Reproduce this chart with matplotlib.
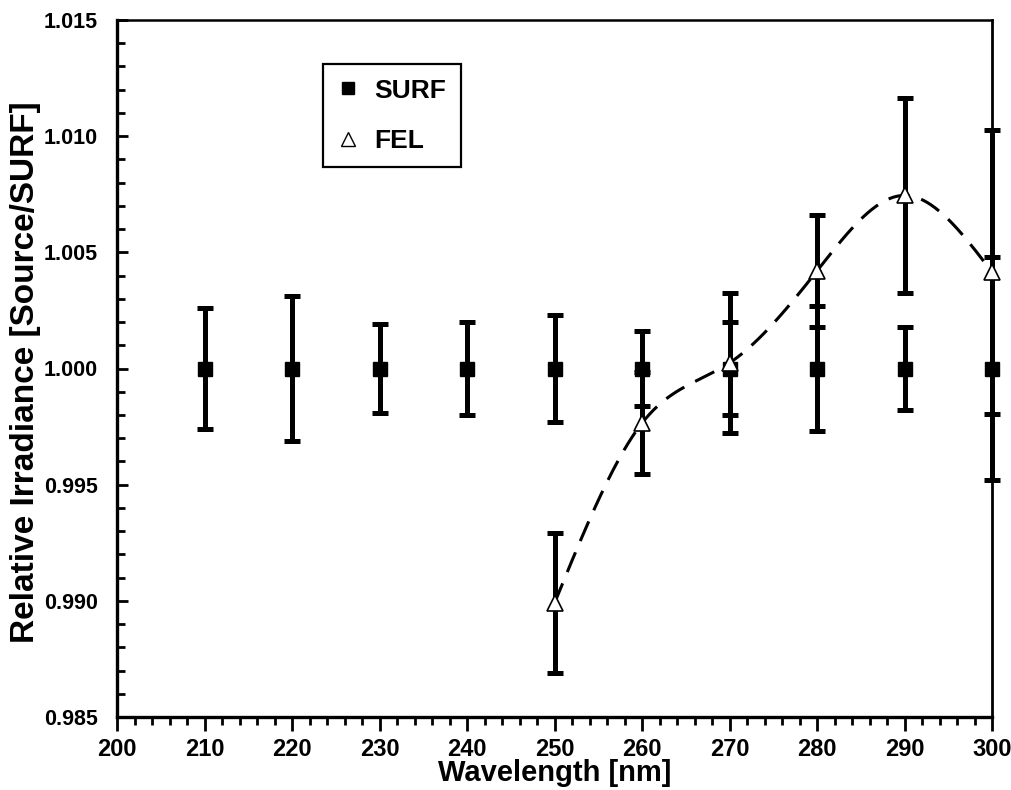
import numpy as np
import matplotlib
matplotlib.use("Agg")
import matplotlib.pyplot as plt
from matplotlib.lines import Line2D
from matplotlib.ticker import MultipleLocator, FormatStrFormatter

# ---- data ----
wavelength_surf = [210, 220, 230, 240, 250, 260, 270, 280, 290, 300]
surf_values = [1.000] * 10
surf_err = [0.0026, 0.0031, 0.0019, 0.0020, 0.0023, 0.0016, 0.0020, 0.0027, 0.0018, 0.0048]

wavelength_fel = [250, 260, 270, 280, 290, 300]
fel_values = [0.9899, 0.99765, 1.00024, 1.0042, 1.00745, 1.00415]
fel_err = [0.0030, 0.0022, 0.0030, 0.0024, 0.0042, 0.0061]

x_ticks = [200, 210, 220, 230, 240, 250, 260, 270, 280, 290, 300]
y_ticks = [0.985, 0.990, 0.995, 1.000, 1.005, 1.010, 1.015]


def natural_spline(x, y, xs):
    x = np.asarray(x, float); y = np.asarray(y, float)
    n = len(x)
    h = np.diff(x)
    A = np.zeros((n, n)); b = np.zeros(n)
    A[0, 0] = 1; A[-1, -1] = 1
    for i in range(1, n - 1):
        A[i, i - 1] = h[i - 1]
        A[i, i] = 2 * (h[i - 1] + h[i])
        A[i, i + 1] = h[i]
        b[i] = 3 * ((y[i + 1] - y[i]) / h[i] - (y[i] - y[i - 1]) / h[i - 1])
    c = np.linalg.solve(A, b)
    out = np.empty_like(xs)
    for k, xv in enumerate(xs):
        i = min(np.searchsorted(x, xv, side='right') - 1, n - 2)
        i = max(i, 0)
        dx = xv - x[i]
        bi = (y[i + 1] - y[i]) / h[i] - h[i] * (2 * c[i] + c[i + 1]) / 3
        di = (c[i + 1] - c[i]) / (3 * h[i])
        out[k] = y[i] + bi * dx + c[i] * dx ** 2 + di * dx ** 3
    return out


fig = plt.figure(figsize=(10.11, 7.90), dpi=100)
ax = fig.add_axes([117 / 1011, 73 / 790, 875 / 1011, 697 / 790])

# dashed smooth curve through FEL points
xs = np.linspace(wavelength_fel[0], wavelength_fel[-1], 300)
ax.plot(xs, natural_spline(wavelength_fel, fel_values, xs), color='black',
        lw=2.2, dashes=(7, 4), zorder=2)

fel_bars = ax.errorbar(wavelength_fel, fel_values, yerr=fel_err, fmt='none', ecolor='black',
                       elinewidth=3.6, capsize=6, capthick=3.6, zorder=3)
surf_bars = ax.errorbar(wavelength_surf, surf_values, yerr=surf_err, fmt='s', color='black',
                        ms=10.5, elinewidth=3.6, capsize=6, capthick=3.6, zorder=4)
for cont in (fel_bars, surf_bars):
    for art in cont.get_children():
        art.set_clip_on(False)
ax.plot(wavelength_fel, fel_values, linestyle='none', marker='^', ms=11.5,
        mfc='white', mec='black', mew=1.2, zorder=5, clip_on=False)

ax.set_xlim(200, 300)
ax.set_ylim(0.985, 1.015)
ax.set_xticks(x_ticks)
ax.set_yticks(y_ticks)
ax.xaxis.set_minor_locator(MultipleLocator(2))
ax.yaxis.set_minor_locator(MultipleLocator(0.001))
ax.yaxis.set_major_formatter(FormatStrFormatter('%.3f'))

fam = ['Liberation Sans', 'DejaVu Sans']
for lab in ax.get_yticklabels():
    lab.set_fontfamily(fam)
    lab.set_fontweight('bold')
    lab.set_fontsize(15.5)
for lab in ax.get_xticklabels():
    lab.set_fontfamily(fam)
    lab.set_fontweight('bold')
    lab.set_fontsize(17)

ax.tick_params(axis='x', which='major', direction='out', length=10, width=2, pad=5)
ax.tick_params(axis='x', which='minor', direction='out', length=6, width=2)
ax.tick_params(axis='y', which='major', direction='in', length=8, width=2, pad=14)
ax.tick_params(axis='y', which='minor', direction='in', length=6, width=2)

ax.spines['left'].set_linewidth(2.4)
ax.spines['bottom'].set_linewidth(2.4)
ax.spines['top'].set_linewidth(1.8)
ax.spines['right'].set_linewidth(2.0)

ax.set_xlabel('Wavelength [nm]', family=fam, weight='bold', size=21)
ax.xaxis.set_label_coords(0.5, (717 - 773) / 697)
ax.xaxis.label.set_va('center')
ax.set_ylabel('Relative Irradiance [Source/SURF]', family=fam, weight='bold', size=24)
ax.yaxis.set_label_coords((26 - 117) / 875, (717 - 372) / 697)
ax.yaxis.label.set_va('center')

handles = [Line2D([], [], linestyle='none', marker='s', ms=9, color='black'),
           Line2D([], [], linestyle='none', marker='^', ms=10, mfc='white', mec='black', mew=1.0)]
leg = ax.legend(handles, ['SURF', 'FEL'], loc='upper left',
                bbox_to_anchor=((323 - 117) / 875, (717 - 64) / 697),
                frameon=True, fancybox=False, edgecolor='black', framealpha=1,
                prop=dict(family=fam, weight='bold', size=19),
                handlelength=0.8, handletextpad=0.6, labelspacing=1.0,
                borderpad=0.55, borderaxespad=0)
leg.get_frame().set_linewidth(1.6)

fig.savefig('out.png', dpi=100)
